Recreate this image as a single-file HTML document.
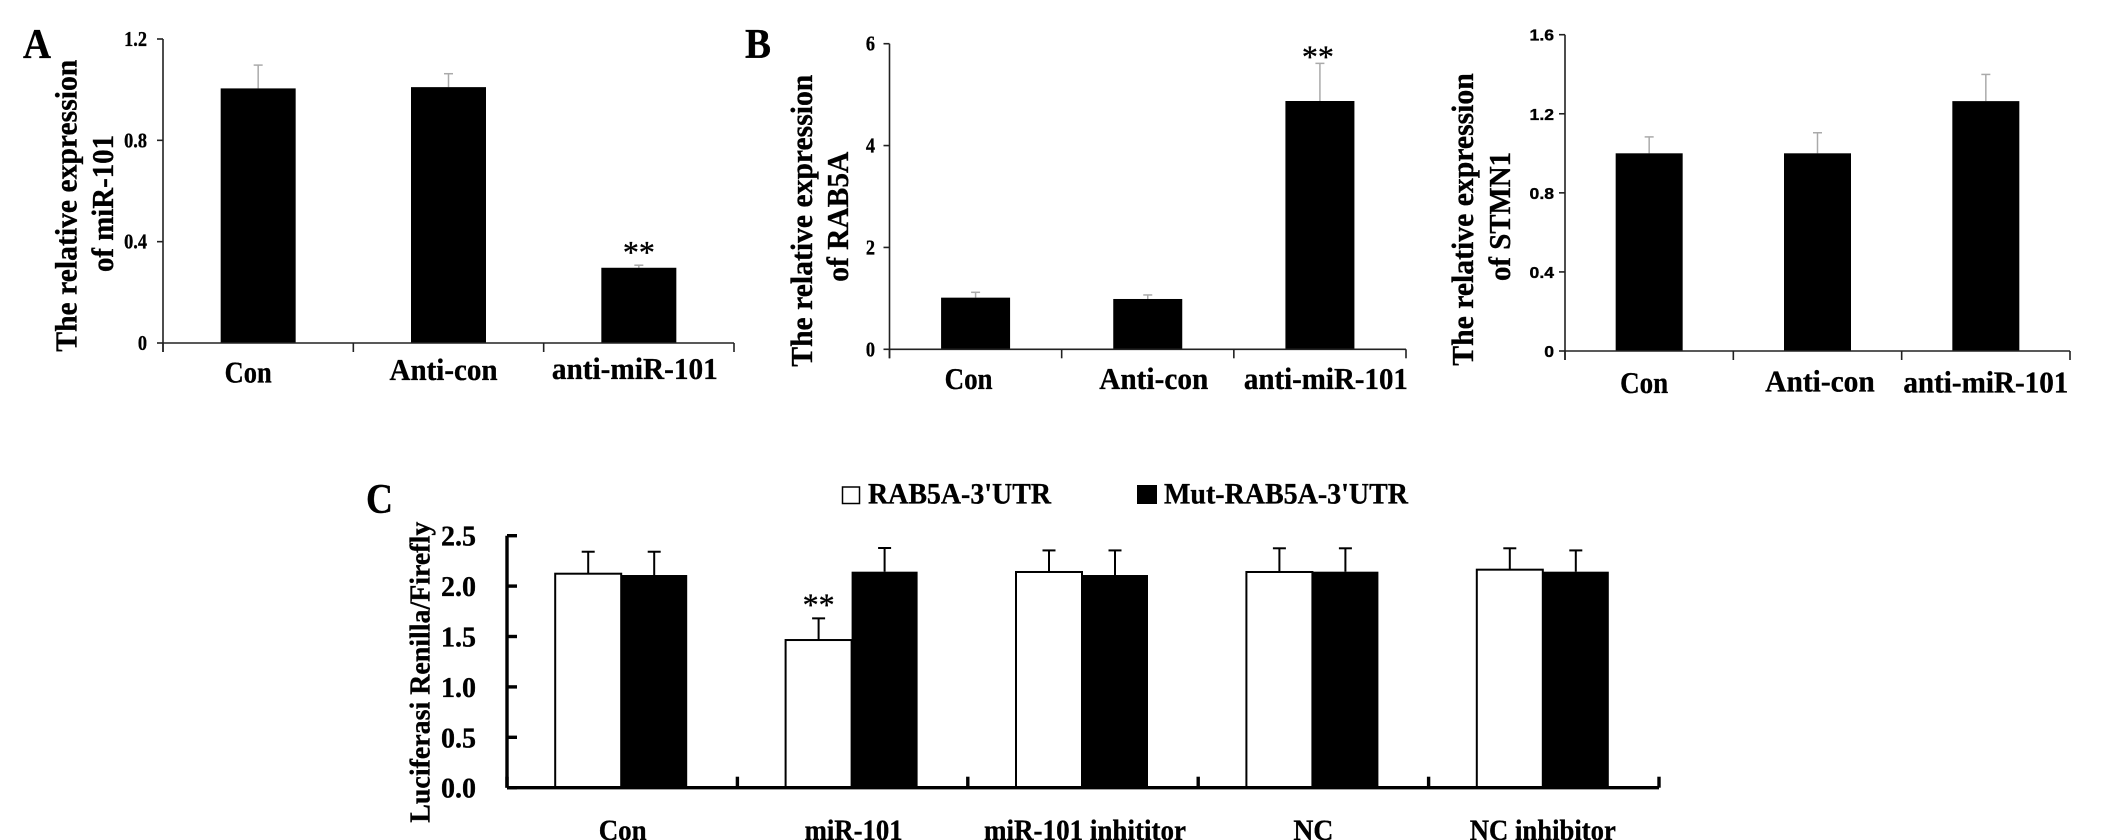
<!DOCTYPE html>
<html lang="en">
<head>
<meta charset="utf-8">
<title>miR-101 expression and luciferase assay panels</title>
<style>
html,body{margin:0;padding:0;background:#fff;}
svg{display:block;}
text{font-family:"Liberation Serif",serif;font-weight:bold;fill:#000;stroke:#000;stroke-width:0.35px;}
</style>
</head>
<body>
<svg id="figure" xmlns="http://www.w3.org/2000/svg" width="2127" height="840" viewBox="0 0 2127 840">
  <rect x="0" y="0" width="2127" height="840" fill="#fff"/>
  <text x="23" y="58" font-size="42" textLength="28" lengthAdjust="spacingAndGlyphs">A</text>
  <text x="745" y="58" font-size="42" textLength="26" lengthAdjust="spacingAndGlyphs">B</text>
  <text x="366" y="513" font-size="42" textLength="27" lengthAdjust="spacingAndGlyphs">C</text>

  <text font-size="31" transform="translate(76.5,351.7) rotate(-90)" textLength="292" lengthAdjust="spacingAndGlyphs">The relative expression</text>
  <text font-size="31" transform="translate(113,272) rotate(-90)" textLength="137" lengthAdjust="spacingAndGlyphs">of miR-101</text>
  <text font-size="31" transform="translate(812,366.7) rotate(-90)" textLength="292" lengthAdjust="spacingAndGlyphs">The relative expression</text>
  <text font-size="31" transform="translate(848,281.7) rotate(-90)" textLength="130" lengthAdjust="spacingAndGlyphs">of RAB5A</text>
  <text font-size="31" transform="translate(1473,365.7) rotate(-90)" textLength="292.5" lengthAdjust="spacingAndGlyphs">The relative expression</text>
  <text font-size="31" transform="translate(1510,281) rotate(-90)" textLength="129" lengthAdjust="spacingAndGlyphs">of STMN1</text>
  <text font-size="28" transform="translate(429.5,822.7) rotate(-90)" textLength="301" lengthAdjust="spacingAndGlyphs">Luciferasi Renilla/Firefly</text>

  <rect x="842.5" y="487" width="17" height="16.5" fill="#fff" stroke="#000" stroke-width="1.5"/>
  <text x="868" y="503.5" font-size="30" textLength="183" lengthAdjust="spacingAndGlyphs">RAB5A-3'UTR</text>
  <rect x="1137" y="485" width="20" height="19" fill="#000"/>
  <text x="1164" y="503.5" font-size="30" textLength="244" lengthAdjust="spacingAndGlyphs">Mut-RAB5A-3'UTR</text>
</svg>
<script>
// Panel A: miR-101
const mirCategories = ['Con', 'Anti-con', 'anti-miR-101'];
const mirValues = [1.005, 1.01, 0.297];
const mirErrors = [0.092, 0.053, 0.01];
const mirStars = ['', '', '**'];
const mirTicks = [0, 0.4, 0.8, 1.2];
const mirTickLabels = ['0', '0.4', '0.8', '1.2'];

// Panel B left: RAB5A
const rabCategories = ['Con', 'Anti-con', 'anti-miR-101'];
const rabValues = [1.014, 0.988, 4.875];
const rabErrors = [0.105, 0.079, 0.739];
const rabStars = ['', '', '**'];
const rabTicks = [0, 2, 4, 6];
const rabTickLabels = ['0', '2', '4', '6'];

// Panel B right: STMN1
const stmCategories = ['Con', 'Anti-con', 'anti-miR-101'];
const stmValues = [1.0, 1.0, 1.264];
const stmErrors = [0.083, 0.104, 0.135];
const stmStars = ['', '', ''];
const stmTicks = [0, 0.4, 0.8, 1.2, 1.6];
const stmTickLabels = ['0', '0.4', '0.8', '1.2', '1.6'];

// Panel C: luciferase assay
const lucCategories = ['Con', 'miR-101', 'miR-101 inhititor', 'NC', 'NC inhibitor'];
const lucWildValues = [2.123, 1.465, 2.14, 2.14, 2.163];
const lucWildErrors = [0.218, 0.215, 0.214, 0.235, 0.212];
const lucMutValues = [2.11, 2.143, 2.11, 2.143, 2.143];
const lucMutErrors = [0.231, 0.235, 0.244, 0.232, 0.211];
const lucWildStars = ['', '**', '', '', ''];
const lucTicks = [0, 0.5, 1.0, 1.5, 2.0, 2.5];
const lucTickLabels = ['0.0', '0.5', '1.0', '1.5', '2.0', '2.5'];

const NS = 'http://www.w3.org/2000/svg';
const svg = document.getElementById('figure');

function make(tag, attrs, parent) {
  const n = document.createElementNS(NS, tag);
  for (const k in attrs) n.setAttribute(k, attrs[k]);
  parent.appendChild(n);
  return n;
}
function yAxisScale(g, v) { return g.yBase - (v / g.max) * (g.yBase - g.yTop); }
function bandCenter(g, i, n) { return g.x0 + (i + 0.5) * (g.x1 - g.x0) / n; }

function drawAxes(g, prefix, ticks, tickLabels, count, parent) {
  const yAxis = make('line', {x1: g.x0, x2: g.x0, y1: g.yTop, y2: g.yBase + g.xTickDown, stroke: g.axisColor, 'stroke-width': g.axisW}, parent);
  
  
  const xAxis = make('line', {x1: g.x0, x2: g.x1, y1: g.yBase, y2: g.yBase, stroke: g.axisColor, 'stroke-width': g.axisW}, parent);
  
  
  ticks.forEach(function (t, i) {
    const y = yAxisScale(g, t);
    const tick = make('line', {x1: g.x0 + g.yTickFrom, x2: g.x0 + g.yTickTo, y1: y, y2: y, stroke: g.axisColor, 'stroke-width': g.axisW}, parent);
    
    
    const lab = make('text', {'text-anchor': 'end', 'font-size': g.tickFont, transform: 'translate(' + g.tickRight + ',' + (y + g.tickDy) + ') scale(' + g.tickSx + ',1)'}, parent);
    lab.textContent = tickLabels[i];
    if (g.tickFamily) lab.setAttribute('style', 'font-family:' + g.tickFamily);
    
    
  });
  for (let i = 0; i <= count; i++) {
    const x = g.x0 + i * (g.x1 - g.x0) / count;
    const tick = make('line', {x1: x, x2: x, y1: g.yBase + g.xTickUp, y2: g.yBase + g.xTickDown, stroke: g.axisColor, 'stroke-width': g.axisW}, parent);
    
    
  }
}

function drawCategoryLabels(prefix, categories, g, parent) {
  categories.forEach(function (c, i) {
    const lab = make('text', {x: bandCenter(g, i, categories.length) + g.labelDx[i], y: g.labelY[i], 'font-size': g.labelFont, 'text-anchor': 'middle', textLength: g.labelW[i], lengthAdjust: 'spacingAndGlyphs'}, parent);
    lab.textContent = c;
    
    
  });
}

function drawBar(g, prefix, cx, width, value, error, fill, parent) {
  const yTopBar = yAxisScale(g, value);
  const yErr = yAxisScale(g, value + error);
  const stem = make('line', {x1: cx, x2: cx, y1: yTopBar, y2: yErr, stroke: g.errColor, 'stroke-width': g.errW}, parent);
  
  
  const cap = make('line', {x1: cx - g.capW / 2, x2: cx + g.capW / 2, y1: yErr, y2: yErr, stroke: g.errColor, 'stroke-width': g.errW}, parent);
  
  
  const bar = make('rect', {x: cx - width / 2, y: yTopBar, width: width, height: g.yBase - yTopBar, fill: fill, stroke: fill === '#fff' ? '#000' : 'none', 'stroke-width': fill === '#fff' ? 2 : 0}, parent);
  
  
  return yErr;
}

function drawStars(cx, y, text, prefix, parent) {
  const s = make('text', {x: cx, y: y + 15, 'font-size': 32, 'text-anchor': 'middle', style: 'font-weight:normal'}, parent);
  s.textContent = text;
  
  
}

function drawSimplePanel(prefix, g, categories, values, errors, stars, ticks, tickLabels) {
  const panel = make('g', {}, svg);
  
  
  values.forEach(function (v, i) {
    const cx = bandCenter(g, i, values.length);
    const yErr = drawBar(g, prefix + '-' + i, cx, g.barW, v, errors[i], '#000', panel);
    if (stars[i]) drawStars(cx + g.starDx, yErr - g.starGap, stars[i], prefix, panel);
  });
  drawAxes(g, prefix, ticks, tickLabels, categories.length, panel);
  drawCategoryLabels(prefix, categories, g, panel);
}

const thinAxis = {axisColor: '#222', axisW: 1.6, xTickUp: 0, xTickDown: 9, yTickFrom: -6, yTickTo: 0, errColor: '#aaa', errW: 1.5, capW: 9};

drawSimplePanel('mir101', Object.assign({}, thinAxis, {
  x0: 163, x1: 734, yTop: 39, yBase: 343, max: 1.2, barW: 75,
  tickFont: 21, tickRight: 147, tickDy: 7, tickSx: 0.87,
  labelFont: 31, labelDx: [-10, -5, -4], labelY: [382.5, 380, 379], labelW: [47, 108, 166],
  starDx: 0, starGap: 17
}), mirCategories, mirValues, mirErrors, mirStars, mirTicks, mirTickLabels);

drawSimplePanel('rab5a', Object.assign({}, thinAxis, {
  x0: 889.5, x1: 1406, yTop: 43.7, yBase: 349.3, max: 6, barW: 69,
  tickFont: 21, tickRight: 875, tickDy: 7, tickSx: 0.87,
  labelFont: 31, labelDx: [-7, 6, 6], labelY: [389, 389, 389], labelW: [48, 109, 164],
  starDx: -2, starGap: 11
}), rabCategories, rabValues, rabErrors, rabStars, rabTicks, rabTickLabels);

drawSimplePanel('stmn1', Object.assign({}, thinAxis, {
  x0: 1565, x1: 2070, yTop: 34.7, yBase: 351, max: 1.6, barW: 67,
  tickFont: 16, tickRight: 1554, tickDy: 6, tickSx: 1.1, tickFamily: '"Liberation Sans",sans-serif',
  labelFont: 31, labelDx: [-5, 2.5, 0], labelY: [393, 391.5, 392.5], labelW: [48, 109.5, 165],
  starDx: 0, starGap: 11
}), stmCategories, stmValues, stmErrors, stmStars, stmTicks, stmTickLabels);

(function drawLuciferasePanel() {
  const g = {
    x0: 507, x1: 1659, yTop: 535.7, yBase: 787.7, max: 2.5, barW: 66,
    axisColor: '#000', axisW: 3.4, xTickUp: -11, xTickDown: 0, yTickFrom: 0, yTickTo: 10,
    errColor: '#000', errW: 2, capW: 13,
    tickFont: 28, tickRight: 476, tickDy: 10, tickSx: 1,
    labelFont: 30, labelDx: [0.5, 1, 2, 0, -1], labelY: [840, 840, 840, 840, 840], labelW: [48, 98, 202, 40, 146]
  };
  const panel = make('g', {}, svg);
  
  
  lucCategories.forEach(function (c, i) {
    const cx = bandCenter(g, i, lucCategories.length) - 1;
    const yErr = drawBar(g, 'luciferase-wild-' + i, cx - g.barW / 2, g.barW, lucWildValues[i], lucWildErrors[i], '#fff', panel);
    drawBar(g, 'luciferase-mut-' + i, cx + g.barW / 2, g.barW, lucMutValues[i], lucMutErrors[i], '#000', panel);
    if (lucWildStars[i]) drawStars(cx - g.barW / 2, yErr - 18, lucWildStars[i], 'luciferase', panel);
  });
  drawAxes(g, 'luciferase', lucTicks, lucTickLabels, lucCategories.length, panel);
  drawCategoryLabels('luciferase', lucCategories, g, panel);
})();
</script>
</body>
</html>
